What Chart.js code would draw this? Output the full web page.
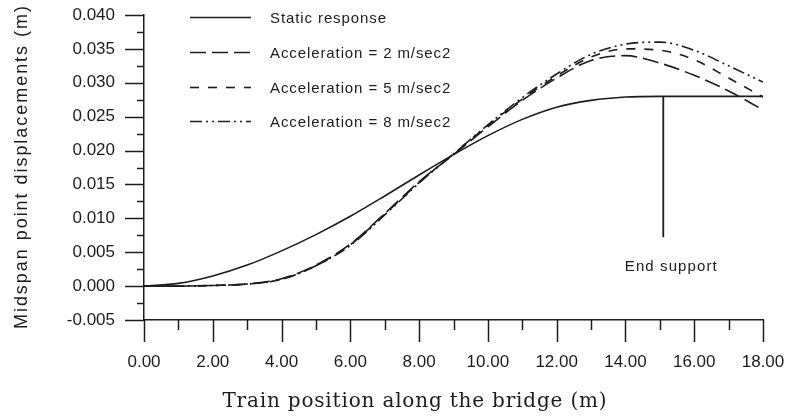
<!DOCTYPE html>
<html lang="en">
<head>
    <meta charset="UTF-8">
    <title>Midspan point displacements</title>
    <script src="https://cdn.jsdelivr.net/npm/chart.js"></script>
    <style>
        html, body { margin: 0; padding: 0; background: #fff; }
        #wrap { width: 789px; height: 418px; }
    </style>
</head>
<body>
    <div id="wrap"><canvas id="myChart" width="789" height="418"></canvas></div>
    <script>
        // Train position along the bridge (m)
        const positions = [0, 1, 2, 3, 4, 5, 6, 7, 8, 9, 10, 11, 12, 13, 14, 15, 16, 17, 18];

        // Midspan displacements (m)
        const staticResp = [0, 0.0004, 0.0015, 0.0031, 0.0052, 0.0076, 0.0103, 0.0133, 0.0164, 0.0194,
                            0.0222, 0.0246, 0.0264, 0.0274, 0.0279, 0.0280, 0.0280, 0.0280, 0.0280];
        const acc2 = [0, 0, 0.0001, 0.0003, 0.0011, 0.0031, 0.0062, 0.0107, 0.0154, 0.0194,
                      0.0235, 0.0274, 0.0307, 0.0333, 0.0340, 0.0329, 0.0311, 0.0288, 0.0260];
        const acc5 = [0, 0, 0.0001, 0.0003, 0.0010, 0.0030, 0.0061, 0.0106, 0.0153, 0.0195,
                      0.0237, 0.0276, 0.0310, 0.0338, 0.0350, 0.0348, 0.0334, 0.0307, 0.0279];
        const acc8 = [0, 0, 0.0001, 0.0003, 0.0010, 0.0030, 0.0060, 0.0105, 0.0152, 0.0195,
                      0.0238, 0.0278, 0.0313, 0.0342, 0.0357, 0.0360, 0.0348, 0.0325, 0.0301];

        const seriesNames = ["Static response", "Acceleration = 2 m/sec2", "Acceleration = 5 m/sec2", "Acceleration = 8 m/sec2"];

        // End support marker
        const endSupportX = [15.1, 15.1];
        const endSupportY = [0.0280, 0.0072];
        const endSupportText = "End support";

        // Tick labels (bottom to top / left to right)
        const yTickLabels = ["-0.005", "0.000", "0.005", "0.010", "0.015", "0.020", "0.025", "0.030", "0.035", "0.040"];
        const xTickLabels = ["0.00", "2.00", "4.00", "6.00", "8.00", "10.00", "12.00", "14.00", "16.00", "18.00"];

        const xTitle = "Train position along the bridge (m)";
        const yTitle = "Midspan point displacements (m)";

        const ink = "#1c1c1c";
        const toPoints = (xs, ys) => xs.map((x, i) => ({ x: x, y: ys[i] }));

        // draw text stretched to a given width with letter spacing
        function fitText(ctx, text, x, y, width) {
            ctx.letterSpacing = "0px";
            const w = ctx.measureText(text).width;
            const ls = (width - w) / text.length;
            ctx.letterSpacing = ls.toFixed(2) + "px";
            ctx.fillText(text, x + ls / 2, y);
            ctx.letterSpacing = "0px";
        }

        const decorPlugin = {
            id: "decor",
            afterDraw(chart) {
                const ctx = chart.ctx;
                const xs = chart.scales.x, ys = chart.scales.y;
                const area = chart.chartArea;
                ctx.save();
                ctx.strokeStyle = ink;
                ctx.lineWidth = 1.5;

                // y ticks, major every 0.005, minor in between
                for (let i = 0; i <= 18; i++) {
                    const py = Math.round(ys.getPixelForValue(-0.005 + i * 0.0025)) + 0.5;
                    const len = i % 2 === 0 ? 19 : 7;
                    ctx.beginPath();
                    ctx.moveTo(area.left - len, py);
                    ctx.lineTo(area.left, py);
                    ctx.stroke();
                }
                // x ticks, major every 2 m, minor every 1 m
                for (let i = 0; i <= 18; i++) {
                    const px = Math.round(xs.getPixelForValue(i)) + 0.5;
                    const len = i % 2 === 0 ? 22 : 10;
                    ctx.beginPath();
                    ctx.moveTo(px, area.bottom);
                    ctx.lineTo(px, area.bottom + len);
                    ctx.stroke();
                }

                // legend
                ctx.fillStyle = ink;
                ctx.font = "15px 'Liberation Sans', Arial, sans-serif";
                ctx.textBaseline = "middle";
                ctx.textAlign = "left";
                const rowY = [17, 52, 87, 121];
                chart.data.datasets.slice(0, 4).forEach((ds, i) => {
                    ctx.setLineDash(ds.borderDash || []);
                    ctx.lineWidth = 1.6;
                    ctx.beginPath();
                    ctx.moveTo(190, rowY[i] + 0.5);
                    ctx.lineTo(251, rowY[i] + 0.5);
                    ctx.stroke();
                    ctx.setLineDash([]);
                    ctx.letterSpacing = "0.9px";
                    ctx.fillText(ds.label, 270, rowY[i] + 2);
                    ctx.letterSpacing = "0px";
                });

                // end support label
                ctx.textAlign = "left";
                fitText(ctx, endSupportText,
                    xs.getPixelForValue(endSupportX[0]) - 39,
                    ys.getPixelForValue(endSupportY[1]) + 30, 93);

                // axis titles
                ctx.textAlign = "left";
                ctx.font = "20px 'DejaVu Serif', 'Liberation Serif', serif";
                fitText(ctx, xTitle, 222, 402, 385);

                ctx.translate(22, 168);
                ctx.rotate(-Math.PI / 2);
                ctx.font = "18px 'Liberation Sans', Arial, sans-serif";
                fitText(ctx, yTitle, -162, 0, 325);
                ctx.restore();
            }
        };

        const lineStyle = {
            borderColor: ink,
            borderWidth: 1.6,
            pointRadius: 0,
            fill: false,
            cubicInterpolationMode: "monotone"
        };

        const ctx = document.getElementById("myChart").getContext("2d");
        new Chart(ctx, {
            type: "line",
            data: {
                datasets: [
                    { ...lineStyle, label: seriesNames[0], data: toPoints(positions, staticResp), borderDash: [] },
                    { ...lineStyle, label: seriesNames[1], data: toPoints(positions, acc2), borderDash: [16, 6] },
                    { ...lineStyle, label: seriesNames[2], data: toPoints(positions, acc5), borderDash: [9, 9] },
                    { ...lineStyle, label: seriesNames[3], data: toPoints(positions, acc8), borderDash: [12, 4, 2, 4, 2, 4] },
                    { ...lineStyle, label: endSupportText, data: toPoints(endSupportX, endSupportY), borderWidth: 1.8, cubicInterpolationMode: "default", tension: 0 }
                ]
            },
            options: {
                responsive: false,
                animation: false,
                events: [],
                layout: { padding: { left: 0, right: 26, top: 15, bottom: 0 } },
                plugins: {
                    legend: { display: false },
                    tooltip: { enabled: false }
                },
                scales: {
                    x: {
                        type: "linear",
                        min: 0,
                        max: 18,
                        afterFit: (s) => { s.height = 98; s.paddingLeft = 0; s.paddingRight = 0; },
                        grid: { display: false, drawTicks: false },
                        border: { display: true, color: ink, width: 1.5 },
                        ticks: {
                            stepSize: 2,
                            autoSkip: false,
                            maxRotation: 0,
                            padding: 32,
                            color: ink,
                            font: { family: "'Liberation Sans', Arial, sans-serif", size: 17 },
                            callback: (v, i) => xTickLabels[i]
                        }
                    },
                    y: {
                        min: -0.005,
                        max: 0.040,
                        afterFit: (s) => { s.width = 144; s.paddingTop = 0; s.paddingBottom = 0; },
                        grid: { display: false, drawTicks: false },
                        border: { display: true, color: ink, width: 1.5 },
                        ticks: {
                            stepSize: 0.005,
                            autoSkip: false,
                            padding: 29,
                            color: ink,
                            font: { family: "'Liberation Sans', Arial, sans-serif", size: 17 },
                            callback: (v, i) => yTickLabels[i]
                        }
                    }
                }
            },
            plugins: [decorPlugin]
        });
    </script>
</body>
</html>
